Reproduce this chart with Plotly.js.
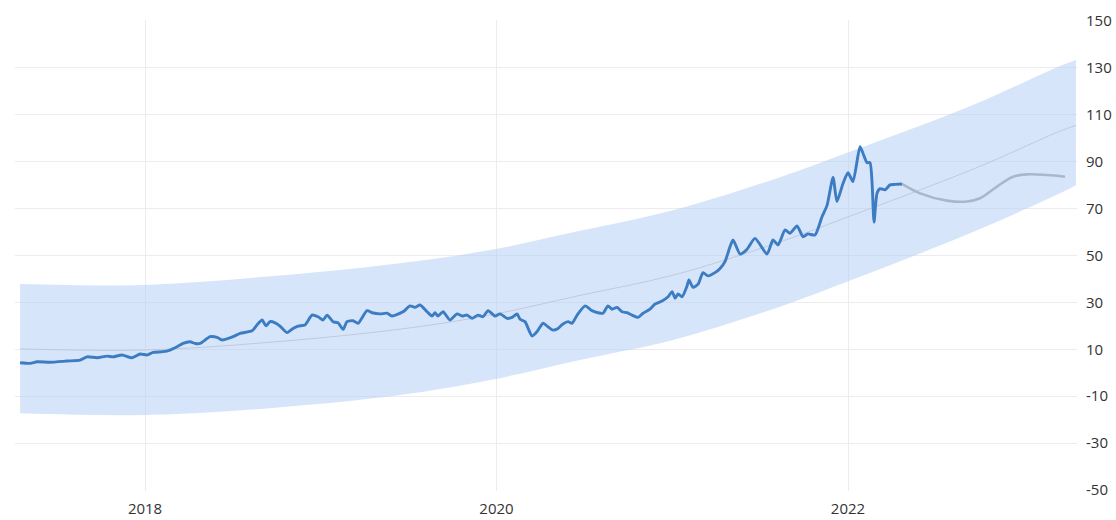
<!DOCTYPE html>
<html>
<head>
<meta charset="utf-8">
<script src="https://cdn.plot.ly/plotly-3.0.1.min.js"></script>
<style>
  html, body { margin: 0; padding: 0; background: #ffffff; }
  #chart { width: 1116px; height: 520px; }
</style>
</head>
<body>
<div id="chart"></div>
<script>
// Historical series (decimal year, value)
const histYears = [
  2017.289, 2017.346, 2017.386, 2017.459, 2017.556, 2017.630, 2017.670, 2017.727, 2017.784, 2017.818,
  2017.869, 2017.926, 2017.972, 2018.011, 2018.046, 2018.102, 2018.142, 2018.182, 2018.216, 2018.256,
  2018.285, 2018.313, 2018.370, 2018.410, 2018.438, 2018.501, 2018.541, 2018.609, 2018.637, 2018.666,
  2018.688, 2018.711, 2018.740, 2018.768, 2018.808, 2018.842, 2018.871, 2018.910, 2018.950, 2018.984,
  2019.013, 2019.036, 2019.070, 2019.098, 2019.127, 2019.149, 2019.184, 2019.212, 2019.263, 2019.292,
  2019.337, 2019.377, 2019.405, 2019.468, 2019.508, 2019.536, 2019.565, 2019.605, 2019.633, 2019.650,
  2019.667, 2019.696, 2019.735, 2019.775, 2019.804, 2019.832, 2019.861, 2019.895, 2019.923, 2019.952,
  2019.991, 2020.020, 2020.060, 2020.088, 2020.117, 2020.134, 2020.162, 2020.202, 2020.230, 2020.265,
  2020.293, 2020.321, 2020.350, 2020.378, 2020.407, 2020.430, 2020.458, 2020.504, 2020.543, 2020.578,
  2020.606, 2020.634, 2020.657, 2020.686, 2020.714, 2020.743, 2020.771, 2020.805, 2020.834, 2020.873,
  2020.902, 2020.942, 2020.976, 2020.999, 2021.016, 2021.033, 2021.056, 2021.084, 2021.095, 2021.118,
  2021.147, 2021.175, 2021.203, 2021.243, 2021.272, 2021.300, 2021.329, 2021.346, 2021.386, 2021.425,
  2021.471, 2021.539, 2021.573, 2021.602, 2021.642, 2021.670, 2021.710, 2021.744, 2021.772, 2021.812,
  2021.852, 2021.881, 2021.915, 2021.937, 2021.972, 2022.000, 2022.028, 2022.068, 2022.085, 2022.108,
  2022.125, 2022.137, 2022.148, 2022.165, 2022.182, 2022.211, 2022.239, 2022.267, 2022.307
];
const histValues = [
  4.3, 4.0, 4.7, 4.5, 5.0, 5.4, 6.8, 6.4, 7.1, 6.8,
  7.6, 6.4, 8.0, 7.6, 8.7, 9.0, 9.7, 11.1, 12.5, 13.2,
  12.5, 12.5, 15.4, 15.1, 14.0, 15.4, 16.8, 17.9, 20.4, 22.5,
  20.0, 21.8, 21.3, 19.9, 17.1, 18.9, 19.9, 20.4, 24.6, 23.9,
  22.5, 24.6, 21.8, 21.3, 18.5, 21.8, 22.2, 21.1, 26.5, 25.6,
  25.1, 25.4, 24.2, 26.0, 28.5, 27.9, 28.9, 26.0, 24.2, 25.6,
  24.2, 26.0, 22.5, 25.1, 24.2, 24.6, 23.2, 24.6, 23.9, 26.5,
  24.2, 25.1, 23.2, 23.6, 25.1, 22.8, 21.8, 15.7, 17.5, 21.1,
  19.6, 18.2, 18.9, 20.8, 21.8, 21.1, 24.5, 28.5, 26.5, 25.6,
  25.4, 28.5, 27.1, 27.9, 26.0, 25.6, 24.6, 23.6, 25.4, 27.1,
  29.3, 30.6, 32.4, 34.6, 31.8, 33.6, 32.4, 37.0, 39.6, 36.4,
  37.8, 42.7, 41.3, 42.7, 44.5, 47.4, 53.8, 56.6, 50.6, 52.6,
  57.3, 50.6, 56.6, 54.5, 60.9, 59.5, 62.6, 58.0, 59.2, 58.7,
  66.5, 71.5, 83.3, 73.0, 80.8, 85.3, 81.5, 96.4, 93.6, 89.6,
  89.6, 80.8, 64.2, 76.5, 78.5, 78.0, 80.1, 80.3, 80.5
];

// Forecast series
const fcYears  = [2022.307, 2022.410, 2022.563, 2022.677, 2022.751, 2022.848, 2022.939, 2023.018, 2023.132, 2023.235];
const fcValues = [80.5, 76.5, 73.4, 73.0, 74.4, 79.4, 83.6, 84.6, 84.3, 83.6];

// Trend channel
const bandYears = [2017.289, 2017.989, 2018.694, 2019.451, 2019.963, 2020.475, 2021.004, 2021.613, 2021.994, 2022.711, 2023.206, 2023.297];
const bandUpper = [37.8, 37.4, 41.0, 46.7, 52.3, 60.5, 69.3, 83.4, 93.8, 114.2, 130.8, 133.4];
const bandLower = [-17.3, -18.0, -15.2, -9.5, -3.1, 5.5, 14.0, 28.2, 38.8, 60.0, 76.5, 80.0];
const trendValues = [10.2, 9.7, 12.9, 18.6, 24.6, 33.0, 41.6, 55.8, 66.3, 86.8, 103.0, 105.5];

// Axis ticks
const xTickVals = [2018, 2020, 2022];
const xTickText = ['2018', '2020', '2022'];
const yTickVals = [-50, -30, -10, 10, 30, 50, 70, 90, 110, 130, 150];
const yTickText = ['-50', '-30', '-10', '10', '30', '50', '70', '90', '110', '130', '150'];

const traces = [
  { x: bandYears, y: bandLower, type: 'scatter', mode: 'lines',
    line: { width: 0, shape: 'spline', smoothing: 1, color: 'rgba(0,0,0,0)' }, hoverinfo: 'skip', showlegend: false },
  { x: bandYears, y: bandUpper, type: 'scatter', mode: 'lines', fill: 'tonexty',
    fillcolor: 'rgba(178,206,246,0.52)',
    line: { width: 0, shape: 'spline', smoothing: 1, color: 'rgba(0,0,0,0)' }, hoverinfo: 'skip', showlegend: false },
  { x: bandYears, y: trendValues, type: 'scatter', mode: 'lines',
    line: { width: 1, shape: 'spline', smoothing: 1, color: 'rgba(190,198,215,0.9)' }, hoverinfo: 'skip', showlegend: false },
  { x: fcYears, y: fcValues, type: 'scatter', mode: 'lines',
    line: { width: 2.6, shape: 'spline', smoothing: 1, color: '#aab6cc' }, hoverinfo: 'skip', showlegend: false },
  { x: histYears, y: histValues, type: 'scatter', mode: 'lines',
    line: { width: 2.9, shape: 'spline', smoothing: 0.6, color: '#3b7cc2' }, hoverinfo: 'skip', showlegend: false }
];

const layout = {
  width: 1116, height: 520,
  margin: { l: 15, r: 39, t: 20, b: 29, pad: 0 },
  paper_bgcolor: '#ffffff', plot_bgcolor: '#ffffff',
  showlegend: false,
  xaxis: {
    type: 'linear', range: [2017.260, 2023.303],
    tickvals: xTickVals, ticktext: xTickText,
    showgrid: true, gridcolor: '#ececec', gridwidth: 1,
    zeroline: false, showline: false, ticks: '',
    ticklabelstandoff: 7,
    tickfont: { family: 'Open Sans, sans-serif', size: 15, color: '#333333' }
  },
  yaxis: {
    range: [-50.4, 150.4], side: 'right',
    tickvals: yTickVals, ticktext: yTickText,
    showgrid: true, gridcolor: '#ececec', gridwidth: 1,
    zeroline: false, showline: false, ticks: '',
    ticklabelstandoff: 8,
    tickfont: { family: 'Open Sans, sans-serif', size: 15, color: '#333333' }
  }
};

Plotly.newPlot('chart', traces, layout, { staticPlot: true, displayModeBar: false });
</script>
</body>
</html>
